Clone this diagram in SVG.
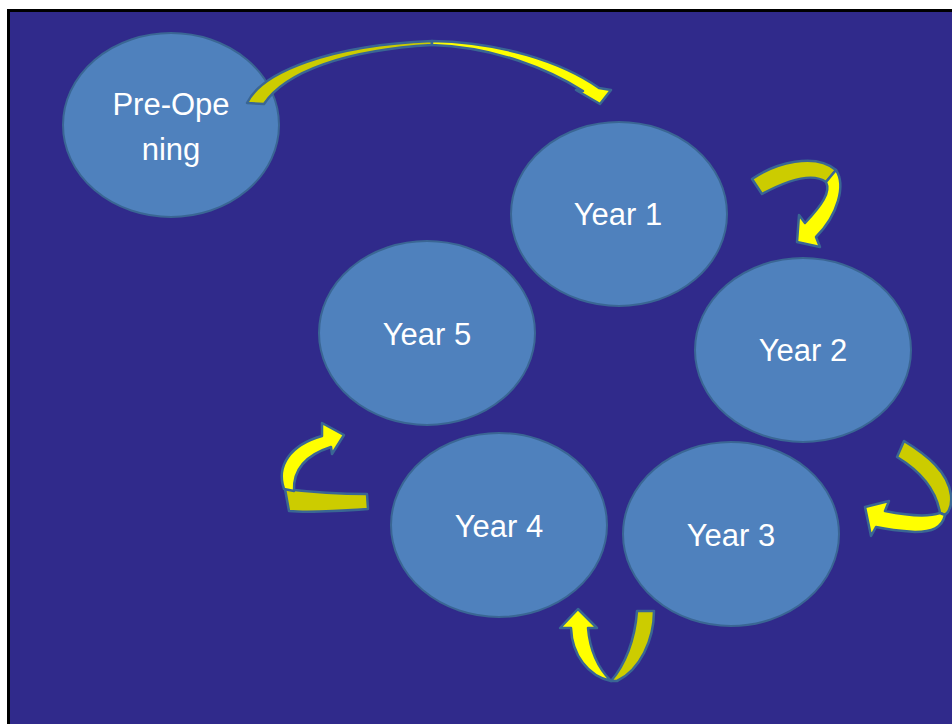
<svg xmlns="http://www.w3.org/2000/svg" width="952" height="724" viewBox="0 0 952 724">
<style>
.node ellipse{fill:#4F81BD;stroke:#3A6694;stroke-width:2}
.node text{fill:#FFFFFF;font-family:"Liberation Sans","DejaVu Sans",sans-serif;font-size:31px;text-anchor:middle}
.dark{fill:#CCCC00;stroke:#3A6694;stroke-width:2.5;stroke-linejoin:round}
.bright{fill:#FFFF00;stroke:#3A6694;stroke-width:2.5;stroke-linejoin:round}
</style>
<rect x="0" y="0" width="952" height="724" fill="#FFFFFF"/>
<rect x="8.5" y="10.5" width="950" height="720" fill="#302A8B" stroke="#000000" stroke-width="3"/>
<g id="node-preopening" class="node">
<ellipse cx="171" cy="125" rx="108" ry="92"/>
<text x="171" y="115">Pre-Ope</text>
<text x="171" y="160">ning</text>
</g>
<g id="node-year1" class="node">
<ellipse cx="619" cy="214" rx="108" ry="92"/>
<text x="618" y="225">Year 1</text>
</g>
<g id="node-year2" class="node">
<ellipse cx="803" cy="350" rx="108" ry="92"/>
<text x="803" y="361">Year 2</text>
</g>
<g id="node-year3" class="node">
<ellipse cx="731" cy="534" rx="108" ry="92"/>
<text x="731" y="546">Year 3</text>
</g>
<g id="node-year4" class="node">
<ellipse cx="499" cy="525" rx="108" ry="92"/>
<text x="499" y="537">Year 4</text>
</g>
<g id="node-year5" class="node">
<ellipse cx="427" cy="333" rx="108" ry="92"/>
<text x="427" y="345">Year 5</text>
</g>
<g id="connectors">
<g id="arrow-pre-y1">
<path class="dark" d="M247,103 C262,72 330,45 432,41 L432,45 C345,50 285,72 264,104 Z"/>
<path class="bright" d="M432,41 C500,42 562,62 599,88 L611,90 L600,104 L576,90 L583,91 C548,69 495,47 432,45 Z"/>
</g>
<g id="arrow-y1-y2">
<path class="dark" d="M752,179 C775,163 815,152 836,170 L826,182 C812,172 788,180 762,194 Z"/>
<path class="bright" d="M836,170 C846,185 838,215 816,237 L820,247 L797,242 L799,215 L805,223 C822,205 831,192 826,182 Z"/>
</g>
<g id="arrow-y2-y3">
<path class="dark" d="M904,441 C927,455 948,472 951,495 C952,505 949,512 945,515 L940,513 C937,495 925,474 897,457 Z"/>
<path class="bright" d="M945,515 C942,528 932,532 915,532 C900,531 885,529 876,527 L871,536 L865,507 L889,501 L885,511 C900,514 925,518 940,513 Z"/>
</g>
<g id="arrow-y3-y4">
<path class="dark" d="M637,611 L654,611 C654,640 640,670 617,681 L611,681 C625,665 635,640 637,611 Z"/>
<path class="bright" d="M611,681 C588,676 572,655 571,628 L560,628 L578,609 L597,628 L588,628 C590,652 600,670 611,681 Z"/>
</g>
<g id="arrow-y4-y5">
<path class="dark" d="M285,489 C310,492 340,494 367,494 L368,509 C340,511 310,513 289,511 Z"/>
<path class="bright" d="M284,489 C276,466 290,445 322,436 L322,423 L344,435 L332,454 L331,447 C306,455 293,470 294,491 Z"/>
</g>
</g>
</svg>
